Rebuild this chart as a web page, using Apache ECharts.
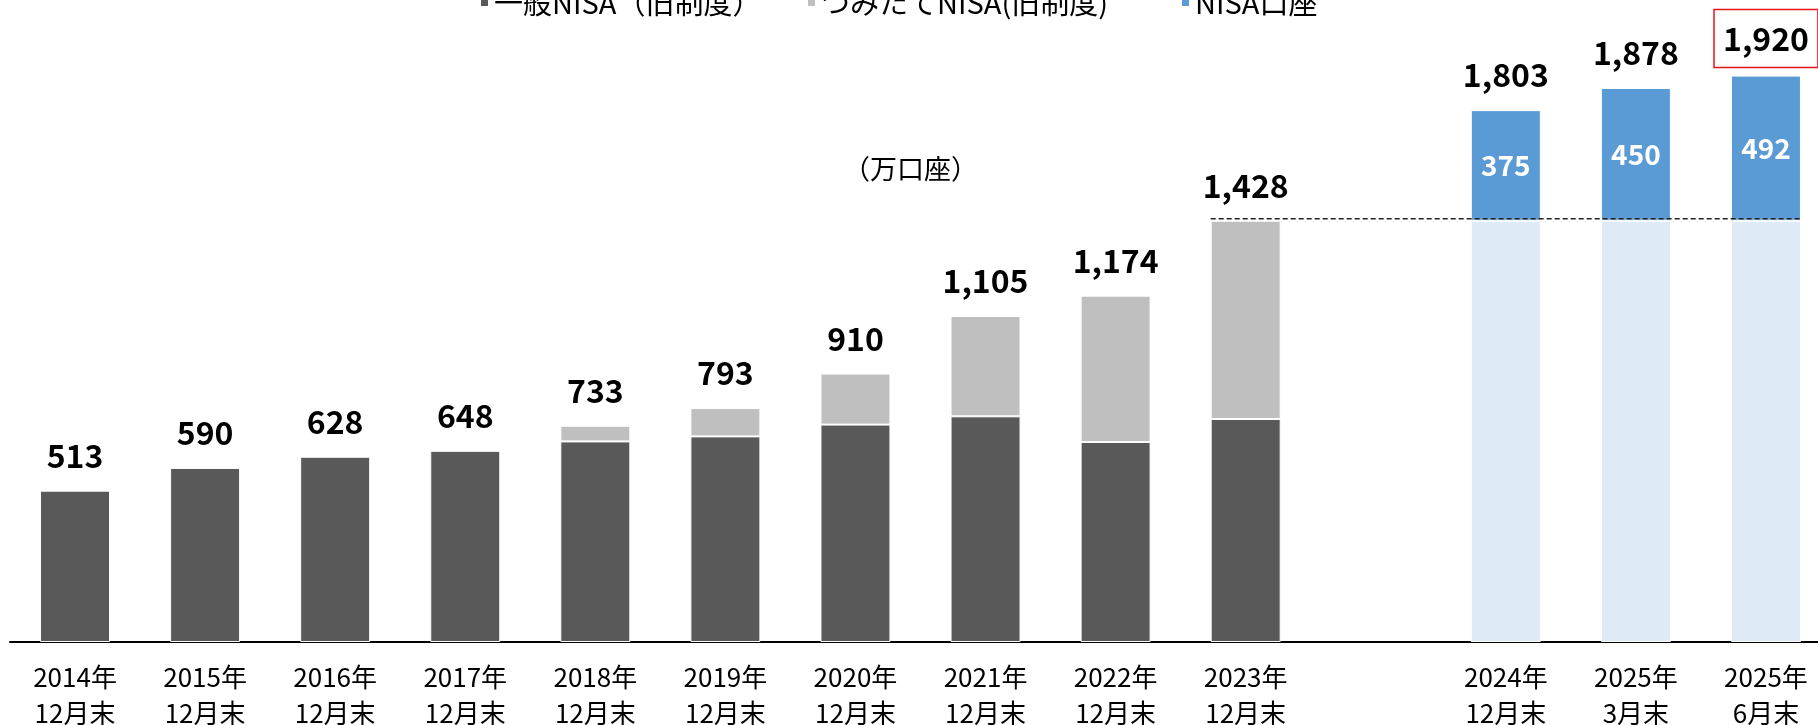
<!DOCTYPE html>
<html>
<head>
<meta charset="utf-8">
<title>NISA口座数の推移</title>
<script src="https://cdn.jsdelivr.net/npm/echarts@6/dist/echarts.min.js"></script>
<style>
  html, body { margin: 0; padding: 0; background: #fff; }
  #chart { width: 1818px; height: 725px; }
</style>
</head>
<body>
<div id="chart"></div>
<script>
// 期末ごとの口座数（万口座）。'' は旧制度と新NISAの間の空き
const categories = [
  '2014年\n12月末', '2015年\n12月末', '2016年\n12月末', '2017年\n12月末', '2018年\n12月末',
  '2019年\n12月末', '2020年\n12月末', '2021年\n12月末', '2022年\n12月末', '2023年\n12月末',
  '', '2024年\n12月末', '2025年\n3月末', '2025年\n6月末'
];
const ippan     = [513, 590, 628, 648, 680, 697, 737, 765, 678, 756, null, null, null, null];
const tsumitate = [null, null, null, null, 53, 96, 173, 340, 496, 672, null, null, null, null];
const carryOver = [null, null, null, null, null, null, null, null, null, null, null, 1428, 1428, 1428];
const nisaNew   = [null, null, null, null, null, null, null, null, null, null, null, 375, 450, 492];
const totals    = [513, 590, 628, 648, 733, 793, 910, 1105, 1174, 1428, null, 1803, 1878, 1920];

const FONT = '"Noto Sans CJK JP", "Noto Sans", sans-serif';
const BAR_W = 70;
const fmt = v => String(v).replace(/\B(?=(\d{3})+(?!\d))/g, ',');

const chart = echarts.init(document.getElementById('chart'));

// 最新値は赤枠で囲む
const lastIdx = totals.length - 1;
const totalData = totals.map((v, i) => i === lastIdx
  ? { value: v, label: { borderColor: '#e8141b', borderWidth: 1.5, padding: [12, 9], lineHeight: 34, distance: 8 } }
  : v);

// 2023年末の水準を示す破線
const baseIdx = categories.indexOf('2023年\n12月末');
const dashData = [[baseIdx, categories.length - 1, totals[baseIdx]]];

const legendText = { fontFamily: FONT, fontSize: 29, color: '#000' };
function oneLegend(name, left) {
  return {
    data: [name], left: left, top: -17, icon: 'rect',
    itemWidth: 9, itemHeight: 9, itemGap: 0,
    selectedMode: false, textStyle: legendText
  };
}

const option = {
  animation: false,
  textStyle: { fontFamily: FONT },
  title: {
    text: '（万口座）', left: 838, top: 150,
    textStyle: { fontFamily: FONT, fontSize: 27, fontWeight: 'normal', color: '#000' }
  },
  legend: [
    oneLegend('一般NISA（旧制度）', 474),
    oneLegend('つみたてNISA(旧制度)', 801),
    oneLegend('NISA口座', 1175)
  ],
  grid: { left: 10, top: 52, bottom: 83, width: 1821, outerBoundsMode: 'none' },
  xAxis: {
    type: 'category',
    data: categories,
    axisTick: { show: false },
    axisLine: { lineStyle: { color: '#000', width: 2 } },
    axisLabel: {
      interval: 0, margin: 17, fontFamily: FONT, fontSize: 26,
      lineHeight: 36, color: '#000'
    }
  },
  yAxis: { type: 'value', min: 0, max: 2000, show: false, splitLine: { show: false } },
  series: [
    {
      name: '一般NISA（旧制度）', type: 'bar', stack: 'a', barWidth: BAR_W, barGap: '-100%',
      itemStyle: { color: '#595959', borderColor: '#fff', borderWidth: 1 },
      data: ippan
    },
    {
      name: 'つみたてNISA(旧制度)', type: 'bar', stack: 'a', barWidth: BAR_W, barGap: '-100%',
      itemStyle: { color: '#bfbfbf', borderColor: '#fff', borderWidth: 1 },
      data: tsumitate
    },
    {
      name: '旧制度', type: 'bar', stack: 'a', barWidth: BAR_W, barGap: '-100%',
      itemStyle: { color: '#deeaf6', borderColor: '#fff', borderWidth: 1 },
      data: carryOver
    },
    {
      name: 'NISA口座', type: 'bar', stack: 'a', barWidth: BAR_W, barGap: '-100%',
      itemStyle: { color: '#5b9bd5', borderColor: '#fff', borderWidth: 1 },
      label: {
        show: true, position: 'inside', color: '#fff', fontFamily: FONT,
        fontSize: 28, fontWeight: 'bold'
      },
      data: nisaNew
    },
    {
      name: '合計', type: 'bar', barWidth: BAR_W, barGap: '-100%', silent: true, z: 3,
      itemStyle: { color: 'rgba(0,0,0,0)' },
      label: {
        show: true, position: 'top', distance: 19, color: '#000',
        fontFamily: FONT, fontSize: 32, fontWeight: 'bold',
        formatter: p => fmt(p.value)
      },
      data: totalData
    },
    {
      type: 'custom', silent: true, z: 5,
      encode: { x: [0, 1], y: 2 },
      data: dashData,
      renderItem: function (params, api) {
        const a = api.coord([api.value(0), api.value(2)]);
        const b = api.coord([api.value(1), api.value(2)]);
        const half = BAR_W / 2;
        return {
          type: 'line',
          shape: { x1: a[0] - half, y1: a[1] - 2, x2: b[0] + half, y2: b[1] - 2 },
          style: { stroke: '#222', lineWidth: 1.3, lineDash: [5, 3] }
        };
      }
    }
  ]
};

chart.setOption(option);
</script>
</body>
</html>
